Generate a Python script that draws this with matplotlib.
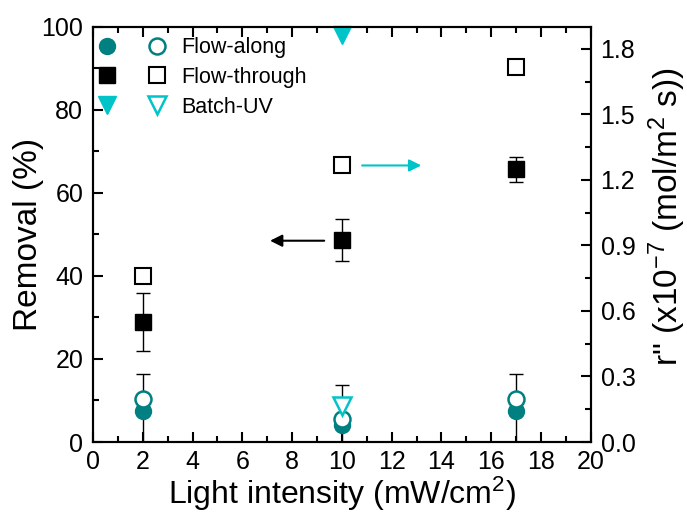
import matplotlib
matplotlib.use("Agg")
import matplotlib.pyplot as plt
from matplotlib.ticker import MultipleLocator, FormatStrFormatter

plt.rcParams['font.family'] = ['Liberation Sans', 'DejaVu Sans']
plt.rcParams['mathtext.fontset'] = 'custom'
plt.rcParams['mathtext.rm'] = 'Liberation Sans'
plt.rcParams['mathtext.it'] = 'Liberation Sans:italic'

# Data
intensity = [2, 10, 17]
# Removal (%) - left axis
along_removal = [7.5, 4.0, 7.5]
along_removal_err = [9.0, 9.7, 9.0]
through_removal = [29.0, 48.7, 65.7]
through_removal_err = [7.0, 5.0, 3.0]
batch_x = [10]
batch_removal = [98.0]
# r'' (x1e-7 mol/m2 s) - right axis
along_rate = [0.197, 0.105, 0.197]
through_rate = [0.760, 1.266, 1.715]
batch_rate = [0.165]

labels = ['Flow-along', 'Flow-through', 'Batch-UV']

teal = '#008080'
cyan = '#00C4C8'

fig = plt.figure(figsize=(6.87, 5.13), dpi=100)
ax = fig.add_axes([0.1354, 0.1384, 0.7246, 0.8090])
ax2 = ax.twinx()

ms_sq = 11
ms_c = 11.5
ms_t = 13

ax.errorbar(intensity, along_removal, yerr=along_removal_err, fmt='none',
            ecolor='black', elinewidth=1, capsize=5, capthick=1, zorder=2)
ax.errorbar(intensity, through_removal, yerr=through_removal_err, fmt='none',
            ecolor='black', elinewidth=1, capsize=5, capthick=1, zorder=2)
h1, = ax.plot(intensity, along_removal, 'o', color=teal, ms=ms_c, mec=teal, zorder=3, clip_on=False)
h2, = ax.plot(intensity, through_removal, 's', color='black', ms=ms_sq, zorder=3, clip_on=False)
h3, = ax.plot(batch_x, batch_removal, 'v', color=cyan, ms=ms_t, mec=cyan, zorder=3, clip_on=False)

o1, = ax2.plot(intensity, along_rate, 'o', mfc='white', mec=teal, mew=1.8, ms=ms_c, zorder=3)
o2, = ax2.plot(intensity, through_rate, 's', mfc='white', mec='black', mew=1.5, ms=ms_sq, zorder=3)
o3, = ax2.plot(batch_x, batch_rate, 'v', mfc='white', mec=cyan, mew=1.8, ms=ms_t, zorder=3)

ax.set_xlim(0, 20)
ax.set_ylim(0, 100)
ax2.set_ylim(0, 1.9)

ax.xaxis.set_major_locator(MultipleLocator(2))
ax.xaxis.set_minor_locator(MultipleLocator(1))
ax.yaxis.set_major_locator(MultipleLocator(20))
ax.yaxis.set_minor_locator(MultipleLocator(10))
ax2.yaxis.set_major_locator(MultipleLocator(0.3))
ax2.yaxis.set_minor_locator(MultipleLocator(0.15))
ax2.yaxis.set_major_formatter(FormatStrFormatter('%.1f'))

for a in (ax, ax2):
    for s in a.spines.values():
        s.set_linewidth(1.5)
ax.tick_params(axis='x', which='both', direction='in', top=True, bottom=True, labelsize=18, pad=6)
ax.tick_params(axis='y', which='both', direction='in', left=True, right=False, labelsize=18, pad=7)
ax.tick_params(which='major', length=7, width=1.5)
ax.tick_params(which='minor', length=4, width=1.5)
ax2.tick_params(axis='y', which='both', direction='in', labelsize=18, pad=7)
ax2.tick_params(which='major', length=7, width=1.5)
ax2.tick_params(which='minor', length=4, width=1.5)

ax.set_xlabel('Light intensity (mW/cm$^2$)', fontsize=23, labelpad=0)
ax.set_ylabel('Removal (%)', fontsize=24, labelpad=-2)
ax2.set_ylabel('r" (x10$^{-7}$ (mol/m$^2$ s))', fontsize=24, labelpad=8)
ax2.yaxis.label.set_y(0.542)

# Arrows
ax.annotate('', xy=(7.0, 48.5), xytext=(9.4, 48.5),
            arrowprops=dict(arrowstyle='-|>', color='black', lw=1.5, mutation_scale=18))
ax.annotate('', xy=(13.3, 1.266 / 1.9 * 100), xytext=(10.7, 1.266 / 1.9 * 100),
            arrowprops=dict(arrowstyle='-|>', color=cyan, lw=1.5, mutation_scale=18))

leg = ax2.legend([h1, h2, h3, o1, o2, o3], ['', '', ''] + labels, ncol=2,
                 loc='upper left', bbox_to_anchor=(-5 / 498, 1 - 5 / 415),
                 frameon=False, fontsize=15.5,
                 columnspacing=0.5, handletextpad=0.5, handlelength=1.3,
                 borderaxespad=0.0, borderpad=0.25, labelspacing=0.4)

fig.savefig('out.png', dpi=100)
